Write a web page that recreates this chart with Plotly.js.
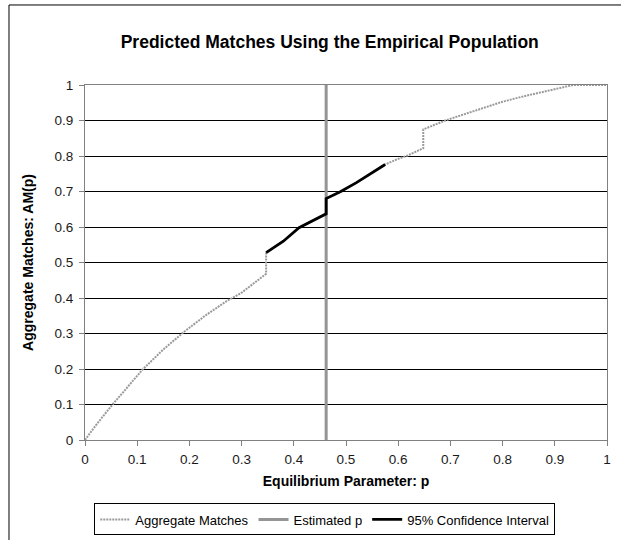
<!DOCTYPE html>
<html>
<head>
<meta charset="utf-8">
<script src="https://cdn.plot.ly/plotly-3.0.1.min.js"></script>
<style>html,body{margin:0;padding:0;background:#fff;}#chart{width:621px;height:540px;}</style>
</head>
<body>
<div id="chart"></div>
<script>
// Aggregate Matches curve AM(p)
const amP = [0, 0.02, 0.05, 0.08, 0.11, 0.15, 0.19, 0.23, 0.27, 0.30, 0.347, 0.347, 0.38, 0.41, 0.44, 0.462, 0.462, 0.49, 0.52, 0.55, 0.575, 0.60, 0.616, 0.648, 0.648, 0.69, 0.72, 0.76, 0.80, 0.84, 0.88, 0.91, 0.935, 1.0];
const amY = [0, 0.04, 0.095, 0.145, 0.198, 0.255, 0.305, 0.35, 0.39, 0.415, 0.468, 0.528, 0.56, 0.598, 0.62, 0.637, 0.68, 0.70, 0.725, 0.752, 0.776, 0.792, 0.80, 0.822, 0.875, 0.90, 0.915, 0.935, 0.953, 0.968, 0.982, 0.992, 1.0, 1.0];
// 95% confidence interval portion
const ciP = [0.347, 0.38, 0.41, 0.44, 0.462, 0.462, 0.49, 0.52, 0.55, 0.575];
const ciY = [0.528, 0.56, 0.598, 0.62, 0.637, 0.68, 0.70, 0.725, 0.752, 0.776];
// Estimated p
const estP = 0.462;
const estY = [0, 1];

const traces = [
  {x: amP, y: amY, mode: 'lines', name: 'Aggregate Matches',
   line: {color: '#9a9a9a', width: 2, dash: '2px,1px'}},
  {x: [estP, estP], y: estY, mode: 'lines', name: 'Estimated p',
   line: {color: '#959595', width: 3}},
  {x: ciP, y: ciY, mode: 'lines', name: '95% Confidence Interval',
   line: {color: '#000000', width: 2.8}}
];

const layout = {
  width: 621, height: 540,
  margin: {l: 85, r: 14, t: 85, b: 100},
  paper_bgcolor: '#fff', plot_bgcolor: '#fff',
  font: {family: 'Arial, "Liberation Sans", sans-serif', size: 13, color: '#000'},
  title: {text: 'Predicted Matches Using the Empirical Population',
          font: {size: 17.5, color: '#000', family: 'Arial, "Liberation Sans", sans-serif', weight: 'bold'},
          x: 0.531, xref: 'container', xanchor: 'center', y: 0.922, yref: 'container', yanchor: 'middle'},
  xaxis: {range: [0, 1], dtick: 0.1, tick0: 0, showgrid: false, zeroline: false, automargin: false,
          showline: true, linecolor: '#808080', linewidth: 1, mirror: true,
          ticks: 'outside', ticklen: 5, tickcolor: '#808080', ticklabelstandoff: 2,
          tickfont: {size: 13.5, color: '#1a1a1a'},
          title: {text: '<b>Equilibrium Parameter: p</b>', font: {size: 14}, standoff: 9}},
  yaxis: {range: [0, 1], dtick: 0.1, tick0: 0, showgrid: true, gridcolor: '#000', gridwidth: 1,
          zeroline: false, showline: true, linecolor: '#808080', linewidth: 1, mirror: true, automargin: false,
          ticks: 'outside', ticklen: 5, tickcolor: '#808080', ticklabelstandoff: 3,
          tickfont: {size: 13.5, color: '#1a1a1a'},
          title: {text: '<b>Aggregate Matches: AM(p)</b>', font: {size: 14}, standoff: 17}},
  legend: {orientation: 'h', xref: 'container', x: 0.523, xanchor: 'center',
           yref: 'container', y: 0.038, yanchor: 'middle',
           bordercolor: '#000', borderwidth: 1, font: {size: 13}, bgcolor: '#fff',
           itemwidth: 30, tracegroupgap: 0},
  shapes: [
    {type: 'rect', xref: 'paper', yref: 'paper', x0: -0.1456, x1: 1.2, y0: -0.5, y1: 1.2254,
     line: {color: '#000', width: 1}, fillcolor: 'rgba(0,0,0,0)', layer: 'below'}
  ],
  showlegend: true
};

Plotly.newPlot('chart', traces, layout, {displayModeBar: false, staticPlot: true});
</script>
</body>
</html>
